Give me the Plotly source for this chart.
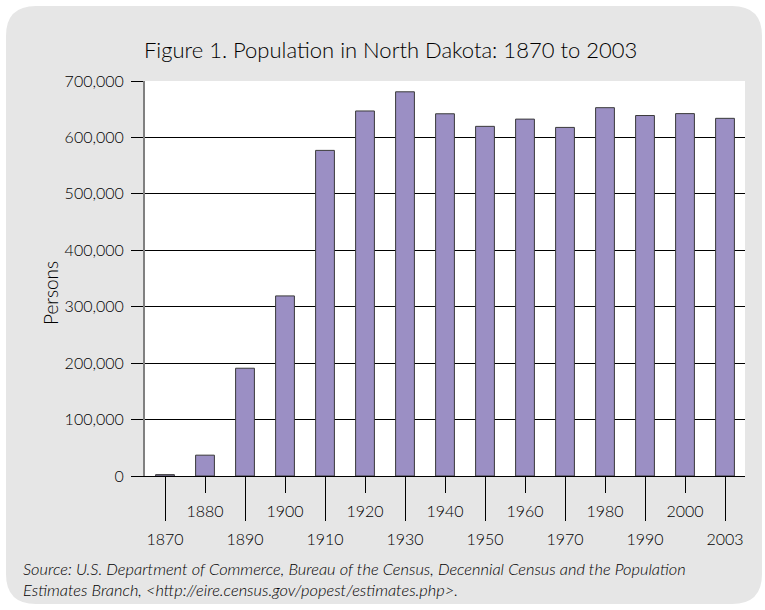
import plotly.graph_objects as go

years = ["1870", "1880", "1890", "1900", "1910", "1920", "1930", "1940",
         "1950", "1960", "1970", "1980", "1990", "2000", "2003"]
population = [2405, 36909, 190983, 319146, 577056, 646872, 680845, 641935,
              619636, 632446, 617761, 652717, 638800, 642200, 633837]
y_ticks = [0, 100000, 200000, 300000, 400000, 500000, 600000, 700000]

title_text = "Figure 1. Population in North Dakota: 1870 to 2003"
y_title = "Persons"
source_text = ("Source: U.S. Department of Commerce, Bureau of the Census, Decennial Census and the Population"
               "<br>Estimates Branch, &lt;http://eire.census.gov/popest/estimates.php&gt;.")

W, H = 765, 610
ML, MR, MT, MB = 145, 20, 81, 134
PW, PH = W - ML - MR, H - MT - MB
FONT = "Lato"
WEIGHT = 300
TXT = "#000000"

def px(x):
    return (x - ML) / PW

def py(y):
    return (H - MB - y) / PH

# rounded background panel (pixel coords -> paper coords)
x0, x1, y0, y1, r = 6, 762, 6, 604, 30
pts = [
    ("M", [(x0 + r, y0)]),
    ("L", [(x1 - r, y0)]),
    ("Q", [(x1, y0), (x1, y0 + r)]),
    ("L", [(x1, y1 - r)]),
    ("Q", [(x1, y1), (x1 - r, y1)]),
    ("L", [(x0 + r, y1)]),
    ("Q", [(x0, y1), (x0, y1 - r)]),
    ("L", [(x0, y0 + r)]),
    ("Q", [(x0, y0), (x0 + r, y0)]),
]
path = ""
for cmd, ps in pts:
    path += cmd + " " + " ".join(f"{px(a):.5f},{py(b):.5f}" for a, b in ps) + " "
path += "Z"

even = years[0::2]
odd = years[1::2]

tickfont = dict(family=FONT, size=16, color=TXT, weight=WEIGHT)

fig = go.Figure()
fig.add_trace(go.Bar(
    x=years, y=population,
    marker=dict(color="#9b8fc4", line=dict(color="#3a3a3a", width=1)),
    width=0.47, hoverinfo="skip",
))
fig.add_trace(go.Scatter(
    x=years, y=population, xaxis="x2", mode="markers",
    marker=dict(opacity=0), hoverinfo="skip", showlegend=False,
))

fig.update_layout(
    width=W, height=H,
    margin=dict(l=ML, r=MR, t=MT, b=MB, pad=0),
    paper_bgcolor="white", plot_bgcolor="white",
    showlegend=False,
    font=dict(family=FONT, color=TXT, size=15, weight=WEIGHT),
    shapes=[
        dict(type="path", path=path, xref="paper", yref="paper",
             fillcolor="#e6e6e6", line=dict(width=0), layer="below"),
        dict(type="rect", xref="paper", yref="paper", x0=0, x1=1, y0=0, y1=1,
             fillcolor="white", line=dict(width=0), layer="below"),
    ],
    xaxis=dict(
        type="category", categoryorder="array", categoryarray=years,
        range=[-0.5, len(years) - 0.5],
        tickmode="array", tickvals=even, ticktext=even,
        ticks="outside", ticklen=44, tickcolor="black", tickwidth=1,
        showgrid=False, zeroline=False,
        showline=True, linecolor="black", linewidth=1,
        tickfont=tickfont, ticklabelstandoff=5,
        fixedrange=True,
    ),
    xaxis2=dict(
        type="category", categoryorder="array", categoryarray=years,
        range=[-0.5, len(years) - 0.5],
        overlaying="x", side="bottom", anchor="y",
        tickmode="array", tickvals=odd, ticktext=odd,
        ticks="outside", ticklen=16, tickcolor="black", tickwidth=1,
        showgrid=False, zeroline=False, showline=False,
        tickfont=tickfont, ticklabelstandoff=5,
        fixedrange=True,
    ),
    yaxis=dict(
        range=[0, 700000], tickmode="array", tickvals=y_ticks,
        tickformat=",", ticks="outside", ticklen=12, tickcolor="black",
        showgrid=True, gridcolor="black", gridwidth=1,
        zeroline=False,
        showline=True, linecolor="#808080", linewidth=2,
        tickfont=tickfont, ticklabelstandoff=4,
        fixedrange=True,
    ),
    annotations=[
        dict(text=title_text, x=px(390), y=py(49), xref="paper", yref="paper",
             xanchor="center", yanchor="middle", showarrow=False,
             font=dict(family=FONT, size=22, color=TXT, weight=WEIGHT)),
        dict(text=y_title, x=px(50), y=py(293), xref="paper", yref="paper",
             xanchor="center", yanchor="middle", showarrow=False, textangle=-90,
             font=dict(family=FONT, size=19, color=TXT, weight=WEIGHT)),
        dict(text=source_text, x=px(21), y=py(557), xref="paper", yref="paper",
             xanchor="left", yanchor="top", align="left", showarrow=False,
             font=dict(family=FONT, size=16.4, color=TXT, weight=WEIGHT,
                       style="italic")),
    ],
)

fig.write_html("out.html", config={"displayModeBar": False, "responsive": False},
               post_script="document.body.style.margin='0';document.body.style.padding='0';")
